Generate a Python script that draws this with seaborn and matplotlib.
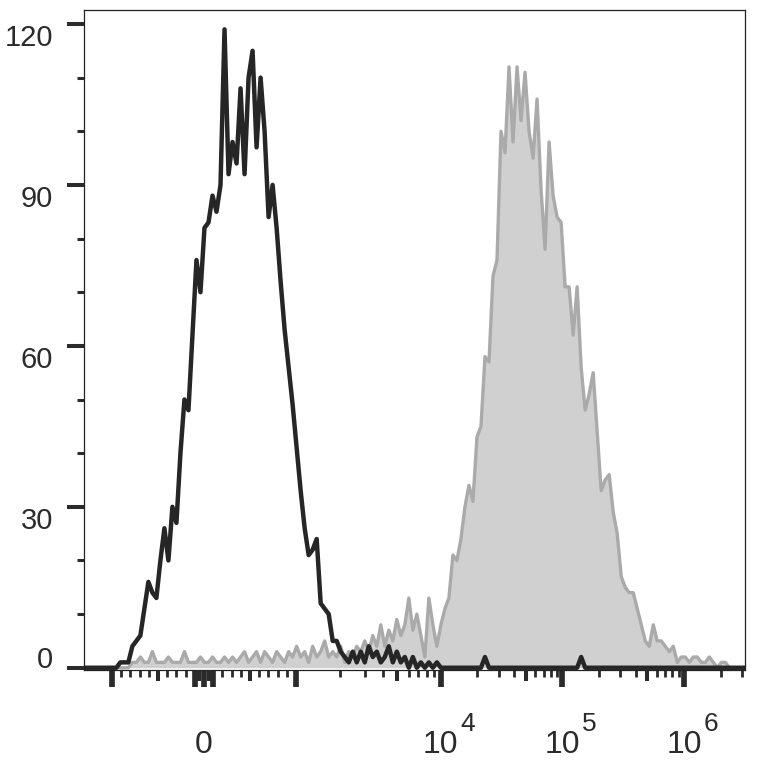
import numpy as np
import matplotlib
matplotlib.use('Agg')
import matplotlib.pyplot as plt
import seaborn as sns

# events per channel, channels evenly spaced along the (logicle-like) x axis
black_counts = [
    0, 0, 0, 0, 0, 0, 0, 0, 0, 1,
    1, 1, 4, 5, 6, 11, 16, 14, 13, 20,
    26, 20, 30, 27, 40, 50, 48, 62, 76, 70,
    82, 83, 88, 85, 90, 119, 92, 98, 94, 108,
    92, 110, 115, 97, 110, 100, 84, 90, 82, 72,
    63, 56, 49, 41, 33, 26, 21, 22, 24, 12,
    11, 10, 5, 5, 3, 2, 1, 3, 1, 3,
    1, 4, 2, 3, 1, 2, 4, 1, 3, 1,
    2, 0, 2, 0, 1, 0, 1, 0, 1, 0,
    0, 0, 0, 0, 0, 0, 0, 0, 0, 0,
    2, 0, 0, 0, 0, 0, 0, 0, 0, 0,
    0, 0, 0, 0, 0, 0, 0, 0, 0, 0,
    0, 0, 0, 0, 2, 0, 0, 0, 0, 0,
    0, 0, 0, 0, 0, 0, 0, 0, 0, 0,
    0, 0, 0, 0, 0, 0, 0, 0, 0, 0,
    0, 0, 0, 0, 0, 0, 0, 0, 0, 0,
    0, 0, 0, 0, 0, 0,
]
gray_counts = [
    0, 0, 0, 0, 0, 0, 0, 0, 0, 0,
    0, 0, 1, 1, 2, 1, 1, 3, 1, 1,
    1, 2, 1, 1, 1, 3, 1, 1, 1, 2,
    1, 1, 2, 1, 1, 2, 1, 2, 1, 2,
    3, 1, 2, 3, 1, 3, 2, 1, 3, 2,
    1, 3, 2, 4, 2, 3, 1, 4, 2, 3,
    5, 2, 3, 2, 4, 1, 3, 2, 4, 3,
    5, 3, 6, 4, 8, 4, 7, 5, 9, 6,
    8, 13, 7, 10, 6, 2, 13, 8, 4, 8,
    11, 13, 21, 20, 24, 30, 34, 31, 43, 45,
    58, 57, 73, 76, 100, 96, 112, 98, 112, 102,
    111, 100, 95, 106, 89, 78, 98, 88, 84, 83,
    71, 71, 62, 71, 56, 48, 51, 55, 44, 33,
    35, 36, 29, 25, 17, 15, 14, 14, 11, 8,
    5, 4, 8, 5, 5, 4, 3, 4, 1, 2,
    2, 1, 2, 2, 1, 1, 2, 1, 0, 1,
    1, 0, 0, 0, 0, 0,
]

x_range = (-1554, 3.19e6)
x_label_ticks = [-1e3, -100, 0, 100, 1e3, 1e4, 1e5, 1e6]
x_label_text = ['', '', '0', '', '', '10', '10', '10']
decade_ticks = [1e4, 1e5, 1e6]
decade_exps = ['4', '5', '6']
x_mid_ticks = [-500, -50, 50, 500, 5e3, 5e4, 5e5]
x_small_ticks = ([-900, -800, -700, -600, -400, -300, -200,
                  200, 300, 400, 600, 700, 800, 900]
                 + [m * 10.0 ** e for e in (3, 4, 5) for m in (2, 3, 4, 6, 7, 8, 9)]
                 + [2e6, 3e6])
y_ticks = [0, 30, 60, 90, 120]
y_minor = [10, 20, 40, 50, 70, 80, 100, 110]

# linear near zero, stretched first decade, then plain log decades
LIN = 0.756
FIRST = 1.189


def fwd(x):
    x = np.asarray(x, dtype=float)
    a = np.abs(x)
    out = np.where(a <= 1e3, a / 1e3 * LIN,
                   np.where(a <= 1e4,
                            LIN + FIRST * np.log10(np.clip(a, 1e3, None) / 1e3),
                            LIN + FIRST + np.log10(np.clip(a, 1e4, None) / 1e4)))
    return np.sign(x) * out


def inv(t):
    t = np.asarray(t, dtype=float)
    a = np.abs(t)
    out = np.where(a <= LIN, a / LIN * 1e3,
                   np.where(a <= LIN + FIRST,
                            1e3 * 10 ** ((np.clip(a, LIN, LIN + FIRST) - LIN) / FIRST),
                            1e4 * 10 ** (np.clip(a, LIN + FIRST, 20) - LIN - FIRST)))
    return np.sign(t) * out


channels = inv(np.linspace(fwd(x_range[0]), fwd(x_range[1]), len(black_counts)))

sns.set_style('ticks')
plt.rcParams['font.family'] = ['Liberation Sans', 'DejaVu Sans']
ink = '#2b2b2b'

fig = plt.figure(figsize=(7.64, 7.65), dpi=100)
ax = fig.add_axes([0.1103, 0.1244, 0.8654, 0.8625])
ax.set_xscale('function', functions=(fwd, inv))

ax.fill_between(channels, gray_counts, color='#d0d0d0', lw=0)
sns.lineplot(x=channels, y=gray_counts, color='#aaaaaa', lw=2.4, ax=ax)
sns.lineplot(x=channels, y=black_counts, color='#262626', lw=3.2, ax=ax)

ax.set_xlim(x_range)
ax.set_ylim(-0.39, 122.6)
ax.set_xlabel('')
ax.set_ylabel('')

ax.set_xticks(x_label_ticks, labels=x_label_text)
ax.set_xticks(x_small_ticks, minor=True)
ax.tick_params(axis='x', which='major', direction='out', length=12, width=4.1,
               pad=31, labelsize=23, color=ink, labelcolor=ink)
ax.tick_params(axis='x', which='minor', direction='out', length=5, width=2,
               color=ink)

ax.set_yticks(y_ticks, labels=[str(v) for v in y_ticks])
ax.set_yticks(y_minor, minor=True)
ax.tick_params(axis='y', which='major', direction='out', length=12.5, width=2.9,
               pad=10, labelsize=21, color=ink, labelcolor=ink)
ax.tick_params(axis='y', which='minor', direction='out', length=5, width=2.2,
               color=ink)
for v, lbl in zip(y_ticks, ax.get_yticklabels()):
    lbl.set_va('baseline' if v == 0 else 'top')

for v, e in zip(decade_ticks, decade_exps):
    ax.annotate(e, xy=(v, 0), xycoords=ax.get_xaxis_transform(),
                xytext=(14, -44), textcoords='offset points',
                ha='left', va='baseline', fontsize=19, color=ink)

for s in ax.spines.values():
    s.set_linewidth(0.9)
    s.set_color('#222222')

# middle-length ticks on a twin axis
ax2 = ax.twiny()
ax2.set_xscale('function', functions=(fwd, inv))
ax2.set_xlim(x_range)
ax2.set_xticks(x_mid_ticks, labels=[''] * len(x_mid_ticks))
ax2.xaxis.set_ticks_position('bottom')
ax2.tick_params(axis='x', which='major', direction='out', length=8, width=2.9,
                color=ink, labelbottom=False, labeltop=False)
ax2.tick_params(axis='x', which='minor', bottom=False, top=False)
for s in ax2.spines.values():
    s.set_visible(False)

fig.savefig('out.png', dpi=100)
